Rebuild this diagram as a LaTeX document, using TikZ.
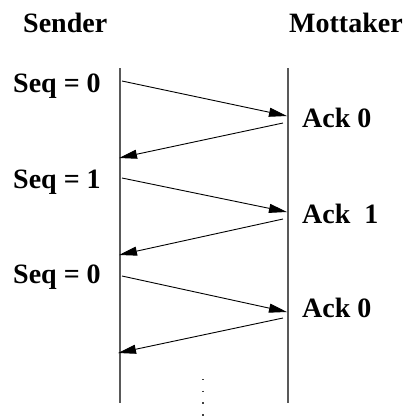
\documentclass[tikz,border=0pt]{standalone}
\usepackage{fontspec}
\setmainfont{Liberation Serif}
\usetikzlibrary{arrows.meta}

\begin{document}
\begin{tikzpicture}[x=1pt, y=-1pt, >={Triangle[length=18pt,width=9pt]},
  font=\fontsize{28}{32}\selectfont\bfseries,
  lbl/.style={anchor=base west, inner sep=0pt},
  msg/.style={->, line width=0.9pt},
  lifeline/.style={line width=1.1pt, black!65}]
  \useasboundingbox (0,0) rectangle (406,416);

  % the two sides
  \node[lbl] (sender) at (23,32) {Sender};
  \node[lbl] (mottaker) at (289,32) {Mottaker};

  % time lines
  \coordinate (stop) at (120,68);
  \coordinate (sbot) at (120,403);
  \coordinate (mtop) at (288,68);
  \coordinate (mbot) at (288,403);
  \draw[lifeline] (stop) -- (sbot);
  \draw[lifeline] (mtop) -- (mbot);

  % end points of the frames and acks
  \coordinate (s0) at (122,81);   \coordinate (r0) at (287,116);
  \coordinate (a0) at (283,123);  \coordinate (b0) at (119,158);
  \coordinate (s1) at (122,178);  \coordinate (r1) at (287,212);
  \coordinate (a1) at (283,219);  \coordinate (b1) at (119,255);
  \coordinate (s2) at (122,276);  \coordinate (r2) at (287,312);
  \coordinate (a2) at (283,318);  \coordinate (b2) at (118,353);

  \draw[msg] (s0) -- (r0);
  \draw[msg] (a0) -- (b0);
  \draw[msg] (s1) -- (r1);
  \draw[msg] (a1) -- (b1);
  \draw[msg] (s2) -- (r2);
  \draw[msg] (a2) -- (b2);

  % labels
  \node[lbl] (seq0) at (13,92) {Seq = 0};
  \node[lbl] (ack0) at (302,127) {Ack 0};
  \node[lbl] (seq1) at (13,188) {Seq = 1};
  \node[lbl] (ack1) at (302,223) {Ack\ \ 1};
  \node[lbl] (seq2) at (13,283) {Seq = 0};
  \node[lbl] (ack2) at (302,317) {Ack 0};

  % and so on ...
  \coordinate (dtop) at (203,379);
  \coordinate (dbot) at (203,416);
  \draw[black!75, line width=1.4pt, dash pattern=on 1.4pt off 10.3pt] (dtop) -- (dbot);
\end{tikzpicture}
\end{document}
